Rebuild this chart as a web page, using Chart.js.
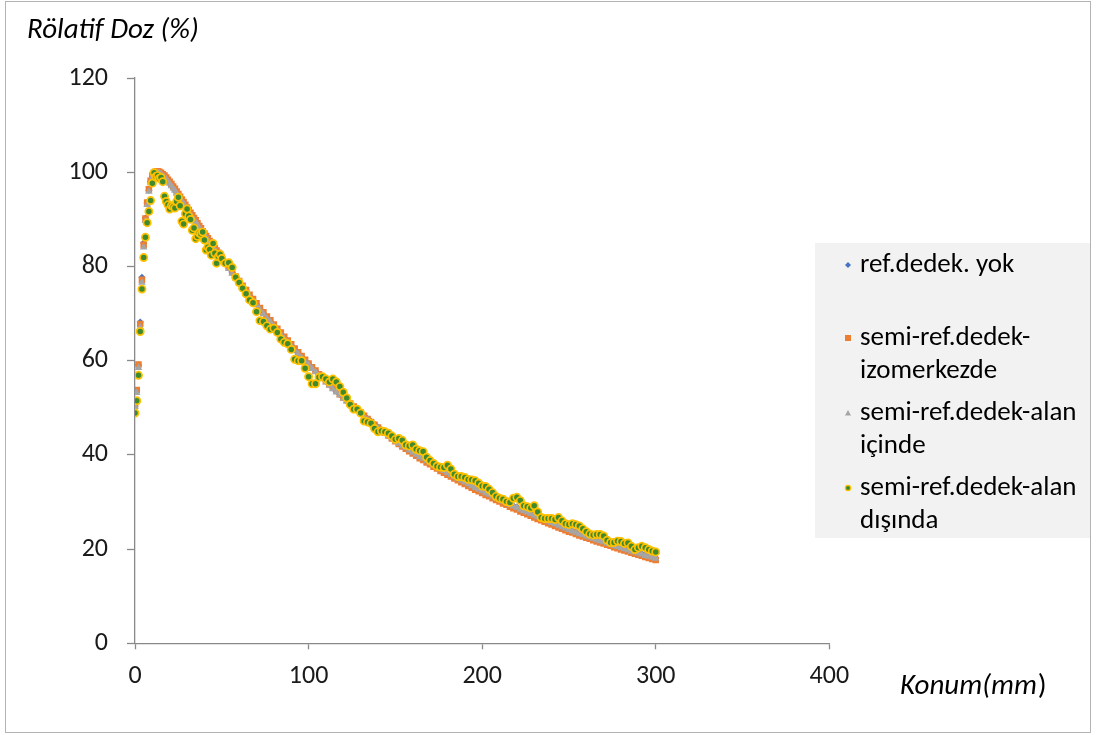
<!DOCTYPE html>
<html>
<head>
<meta charset="utf-8">
<script src="https://cdn.jsdelivr.net/npm/chart.js@4.4.1/dist/chart.umd.min.js"></script>
<style>
  body { margin: 0; background: #fff; }
  #wrap { width: 1097px; height: 735px; position: relative; }
</style>
</head>
<body>
<div id="wrap"><canvas id="chart" width="1097" height="735"></canvas></div>
<script>
// depth (mm): 1 mm steps through the build-up, 2 mm after 50 mm
const konum = [
  0,1,2,3,4,5,6,7,8,9,10,11,12,13,14,15,16,17,18,19,20,21,22,23,24,25,
  26,27,28,29,30,31,32,33,34,35,36,37,38,39,40,41,42,43,44,45,46,47,48,49,50,
  52,54,56,58,60,62,64,66,68,70,72,74,76,78,80,82,84,86,88,90,
  92,94,96,98,100,102,104,106,108,110,112,114,116,118,120,122,124,126,128,130,
  132,134,136,138,140,142,144,146,148,150,152,154,156,158,160,162,164,166,168,170,
  172,174,176,178,180,182,184,186,188,190,192,194,196,198,200,202,204,206,208,210,
  212,214,216,218,220,222,224,226,228,230,232,234,236,238,240,242,244,246,248,250,
  252,254,256,258,260,262,264,266,268,270,272,274,276,278,280,282,284,286,288,290,
  292,294,296,298,300
];

const refYok = [
  50.4,53.6,59.1,68.2,77.7,85.0,90.3,93.5,96.2,98.0,99.1,
  99.7,99.9,100.0,99.8,99.6,99.3,99.0,98.6,98.2,97.7,
  97.2,96.7,96.2,95.7,95.1,94.6,94.0,93.4,92.9,92.3,
  91.7,91.2,90.6,90.1,89.5,89.0,88.4,87.8,87.3,86.8,
  86.2,85.7,85.2,84.7,84.2,83.7,83.2,82.7,82.2,81.7,
  80.7,79.7,78.7,77.7,76.7,75.7,74.8,73.8,72.9,72.0,
  71.0,70.1,69.2,68.4,67.5,66.6,65.8,64.9,64.1,63.3,
  62.4,61.6,60.8,60.0,59.3,58.5,57.8,57.0,56.3,55.6,
  54.9,54.2,53.5,52.9,52.2,51.6,50.9,50.3,49.6,49.0,
  48.3,47.7,47.1,46.5,45.9,45.3,44.8,44.2,43.7,43.1,
  42.6,42.1,41.6,41.1,40.6,40.2,39.7,39.3,38.8,38.4,
  38.0,37.5,37.1,36.7,36.3,35.9,35.5,35.1,34.7,34.3,
  33.9,33.5,33.1,32.8,32.4,32.0,31.7,31.3,30.9,30.6,
  30.2,29.9,29.5,29.2,28.9,28.5,28.2,27.9,27.6,27.2,
  26.9,26.6,26.3,26.0,25.7,25.4,25.1,24.8,24.5,24.2,
  23.9,23.6,23.3,23.1,22.8,22.6,22.3,22.0,21.8,21.6,
  21.3,21.1,20.8,20.6,20.3,20.1,19.9,19.6,19.4,19.2,
  19.0,18.7,18.5,18.3,18.1
];

const izomerkezde = [
  50.7,53.8,59.2,67.8,77.2,84.6,90.2,93.6,96.4,98.2,99.3,
  99.9,100.1,100.2,100.1,99.9,99.6,99.3,98.9,98.4,98.0,
  97.5,97.0,96.5,95.9,95.4,94.8,94.2,93.7,93.1,92.5,
  92.0,91.4,90.9,90.3,89.8,89.2,88.6,88.1,87.5,87.0,
  86.5,86.0,85.4,84.9,84.4,83.9,83.4,82.9,82.4,81.9,
  80.9,79.9,78.9,77.9,76.9,75.9,75.0,74.0,73.1,72.2,
  71.2,70.3,69.4,68.6,67.7,66.8,66.0,65.1,64.3,63.5,
  62.6,61.8,61.0,60.2,59.4,58.6,57.9,57.1,56.4,55.7,
  55.0,54.3,53.6,52.9,52.2,51.6,50.9,50.3,49.6,49.0,
  48.3,47.6,47.0,46.4,45.8,45.2,44.7,44.1,43.5,42.9,
  42.3,41.8,41.3,40.8,40.3,39.8,39.3,38.9,38.4,38.0,
  37.5,37.1,36.6,36.2,35.8,35.4,35.0,34.6,34.2,33.8,
  33.4,33.0,32.6,32.3,31.9,31.5,31.2,30.8,30.4,30.1,
  29.7,29.4,29.0,28.7,28.4,28.0,27.7,27.4,27.1,26.7,
  26.4,26.1,25.8,25.5,25.2,24.9,24.6,24.3,24.0,23.7,
  23.5,23.2,22.9,22.7,22.4,22.2,21.9,21.6,21.4,21.2,
  20.9,20.7,20.4,20.2,19.9,19.7,19.5,19.2,19.0,18.8,
  18.6,18.3,18.1,17.9,17.7
];

const alanIcinde = [
  50.2,53.2,58.5,67.1,76.6,84.1,89.7,93.1,95.9,97.7,98.9,
  99.7,99.9,100.0,99.9,99.6,99.2,98.9,98.5,98.0,97.6,
  97.1,96.6,96.1,95.5,95.0,94.4,93.8,93.3,92.7,92.1,
  91.6,91.0,90.5,89.9,89.4,88.8,88.2,87.7,87.1,86.6,
  86.1,85.6,85.0,84.5,84.0,83.5,83.0,82.5,82.0,81.5,
  80.5,79.5,78.5,77.5,76.5,75.5,74.6,73.6,72.7,71.8,
  70.8,69.9,69.0,68.2,67.3,66.4,65.6,64.7,63.9,63.1,
  62.2,61.4,60.6,59.8,59.1,58.3,57.6,56.8,56.1,55.4,
  54.7,54.0,53.3,52.7,52.0,51.4,50.7,50.1,49.4,48.8,
  48.1,47.5,46.9,46.3,45.7,45.1,44.6,44.0,43.5,42.9,
  42.4,41.9,41.5,41.0,40.5,40.1,39.6,39.2,38.7,38.3,
  37.9,37.4,37.0,36.6,36.2,35.8,35.4,35.0,34.6,34.2,
  33.8,33.4,33.0,32.7,32.3,31.9,31.6,31.2,30.8,30.5,
  30.1,29.8,29.4,29.1,28.8,28.4,28.1,27.8,27.5,27.1,
  26.8,26.5,26.2,25.9,25.6,25.3,25.0,24.7,24.4,24.1,
  23.8,23.5,23.2,23.0,22.7,22.5,22.2,21.9,21.7,21.5,
  21.2,21.0,20.7,20.5,20.2,20.0,19.8,19.5,19.3,19.1,
  18.9,18.6,18.4,18.2,18.0
];

const alanDisinda = [
  48.9,51.5,56.9,66.2,75.2,81.9,86.2,89.3,91.7,94.0,97.7,
  99.9,99.1,99.3,98.7,98.9,98.0,94.9,93.8,93.1,92.2,
  92.9,92.7,92.4,93.8,94.7,92.9,89.6,89.0,91.2,92.2,
  90.7,90.0,87.7,88.2,85.9,86.4,87.1,86.9,87.3,85.6,
  83.5,84.1,83.6,82.4,84.9,82.8,80.7,82.1,82.6,81.7,
  80.7,80.8,79.8,77.7,76.6,75.4,74.2,72.9,72.3,70.4,
  68.5,68.3,67.4,66.7,66.9,66.0,64.6,63.9,63.6,62.4,
  60.3,60.0,60.0,58.4,56.6,55.1,55.1,56.5,56.6,56.1,
  55.5,56.1,55.5,54.5,53.3,52.1,50.7,49.7,49.7,48.9,
  47.2,47.0,46.7,45.6,44.9,45.1,44.9,44.6,44.0,43.3,
  43.5,43.1,42.1,41.9,42.1,41.2,40.9,40.7,39.5,38.8,
  38.2,37.6,37.4,37.3,37.8,37.0,35.9,35.4,35.4,35.2,
  34.8,34.7,34.5,34.0,33.4,33.3,32.7,32.0,31.2,30.8,
  30.6,30.1,29.9,30.8,31.0,30.3,29.2,29.0,28.7,29.2,
  27.9,26.7,26.5,26.5,26.5,26.3,26.7,26.0,25.4,25.2,
  25.4,25.2,24.9,24.3,23.7,23.2,23.0,23.1,23.1,22.8,
  21.9,21.4,21.4,21.7,21.6,21.2,21.3,20.6,19.9,20.3,
  20.6,20.3,19.9,19.6,19.4
];

const xTicks = [0, 100, 200, 300, 400];
const yTicks = [0, 20, 40, 60, 80, 100, 120];

// legend text, already broken into lines
const legendLines = [
  ['ref.dedek. yok'],
  ['semi-ref.dedek-', 'izomerkezde'],
  ['semi-ref.dedek-alan', 'içinde'],
  ['semi-ref.dedek-alan', 'dışında']
];

const FONT = 'Carlito, Lato, sans-serif';
const axisGray = '#898989';

function pts(ys) {
  return konum.map((x, i) => ({ x: x, y: ys[i] }));
}

function marker(ctx, style, x, y, r) {
  ctx.beginPath();
  if (style === 'rectRot') {
    ctx.moveTo(x, y - r); ctx.lineTo(x + r, y); ctx.lineTo(x, y + r); ctx.lineTo(x - r, y);
    ctx.closePath();
  } else if (style === 'rect') {
    ctx.rect(x - r, y - r, 2 * r, 2 * r);
  } else if (style === 'triangle') {
    ctx.moveTo(x, y - r); ctx.lineTo(x + r, y + r * 0.8); ctx.lineTo(x - r, y + r * 0.8);
    ctx.closePath();
  } else {
    ctx.arc(x, y, r, 0, Math.PI * 2);
  }
}

const decor = {
  id: 'decor',
  beforeDraw(c) {
    const ctx = c.ctx;
    ctx.save();
    ctx.fillStyle = '#fff';
    ctx.fillRect(0, 0, c.width, c.height);
    ctx.restore();
  },
  afterDraw(c) {
    const ctx = c.ctx;
    ctx.save();
    // outer frame
    ctx.strokeStyle = '#b3b3b3';
    ctx.lineWidth = 1;
    ctx.strokeRect(5.5, 1.5, 1085, 731);

    // axis titles
    ctx.fillStyle = '#000';
    ctx.textBaseline = 'middle';
    ctx.textAlign = 'left';
    ctx.font = 'italic 29px ' + FONT;
    ctx.fillText('Rölatif Doz (%)', 27, 31);
    const part = 'Konum(mm';
    ctx.fillText(part, 900, 687);
    const w = ctx.measureText(part).width;
    ctx.font = '29px ' + FONT;
    ctx.fillText(')', 900 + w + 1, 687);

    // legend box
    ctx.fillStyle = '#f2f2f2';
    ctx.fillRect(815, 243, 275, 295);
    const rows = [265, 338, 413, 488];
    ctx.font = '27px ' + FONT;
    c.data.datasets.forEach((ds, i) => {
      const y = rows[i];
      ctx.fillStyle = ds.pointBackgroundColor;
      marker(ctx, ds.pointStyle, 848, y, ds.pointStyle === 'circle' ? 2.6 : 3);
      ctx.fill();
      if (ds.pointBorderWidth > 0) {
        ctx.strokeStyle = ds.pointBorderColor;
        ctx.lineWidth = 1.2;
        ctx.stroke();
      }
      ctx.fillStyle = '#000';
      legendLines[i].forEach((t, k) => ctx.fillText(t, 860, y + k * 33));
    });
    ctx.restore();
  }
};

window.onload = () => {
  const ctx = document.getElementById('chart').getContext('2d');
  new Chart(ctx, {
    type: 'scatter',
    data: {
      datasets: [
        {
          label: legendLines[0].join(' '),
          data: pts(refYok),
          pointStyle: 'rectRot',
          pointRadius: 3.6,
          pointBackgroundColor: '#4472c4',
          pointBorderWidth: 0,
          order: 4
        },
        {
          label: legendLines[1].join(''),
          data: pts(izomerkezde),
          pointStyle: 'rect',
          pointRadius: 4.6,
          pointBackgroundColor: '#ed7d31',
          pointBorderWidth: 0,
          order: 3
        },
        {
          label: legendLines[2].join(' '),
          data: pts(alanIcinde),
          pointStyle: 'triangle',
          pointRadius: 4.4,
          pointBackgroundColor: '#a5a5a5',
          pointBorderWidth: 0,
          order: 2
        },
        {
          label: legendLines[3].join(' '),
          data: pts(alanDisinda),
          pointStyle: 'circle',
          pointRadius: 3.6,
          pointBackgroundColor: '#3f8a2c',
          pointBorderColor: '#ffc000',
          pointBorderWidth: 1.7,
          order: 1
        }
      ]
    },
    options: {
      responsive: false,
      animation: false,
      layout: { padding: { left: 0, right: 267.7, top: 78.1, bottom: 0 } },
      plugins: {
        legend: { display: false },
        tooltip: { enabled: false }
      },
      scales: {
        x: {
          type: 'linear',
          min: 0,
          max: 400,
          afterFit: s => { s.height = 91.7; },
          afterBuildTicks: s => { s.ticks = xTicks.map(v => ({ value: v })); },
          ticks: { color: '#1a1a1a', font: { family: FONT, size: 26 }, padding: 12 },
          grid: { drawOnChartArea: false, drawTicks: true, tickLength: 6, tickColor: axisGray, tickWidth: 1.3 },
          border: { color: axisGray, width: 1.3 }
        },
        y: {
          type: 'linear',
          min: 0,
          max: 120,
          afterFit: s => { s.width = 135; },
          afterBuildTicks: s => { s.ticks = yTicks.map(v => ({ value: v })); },
          ticks: { color: '#1a1a1a', font: { family: FONT, size: 26 }, padding: 19 },
          grid: { drawOnChartArea: false, drawTicks: true, tickLength: 8, tickColor: axisGray, tickWidth: 1.3 },
          border: { color: axisGray, width: 1.3 }
        }
      }
    },
    plugins: [decor]
  });
};
</script>
</body>
</html>
